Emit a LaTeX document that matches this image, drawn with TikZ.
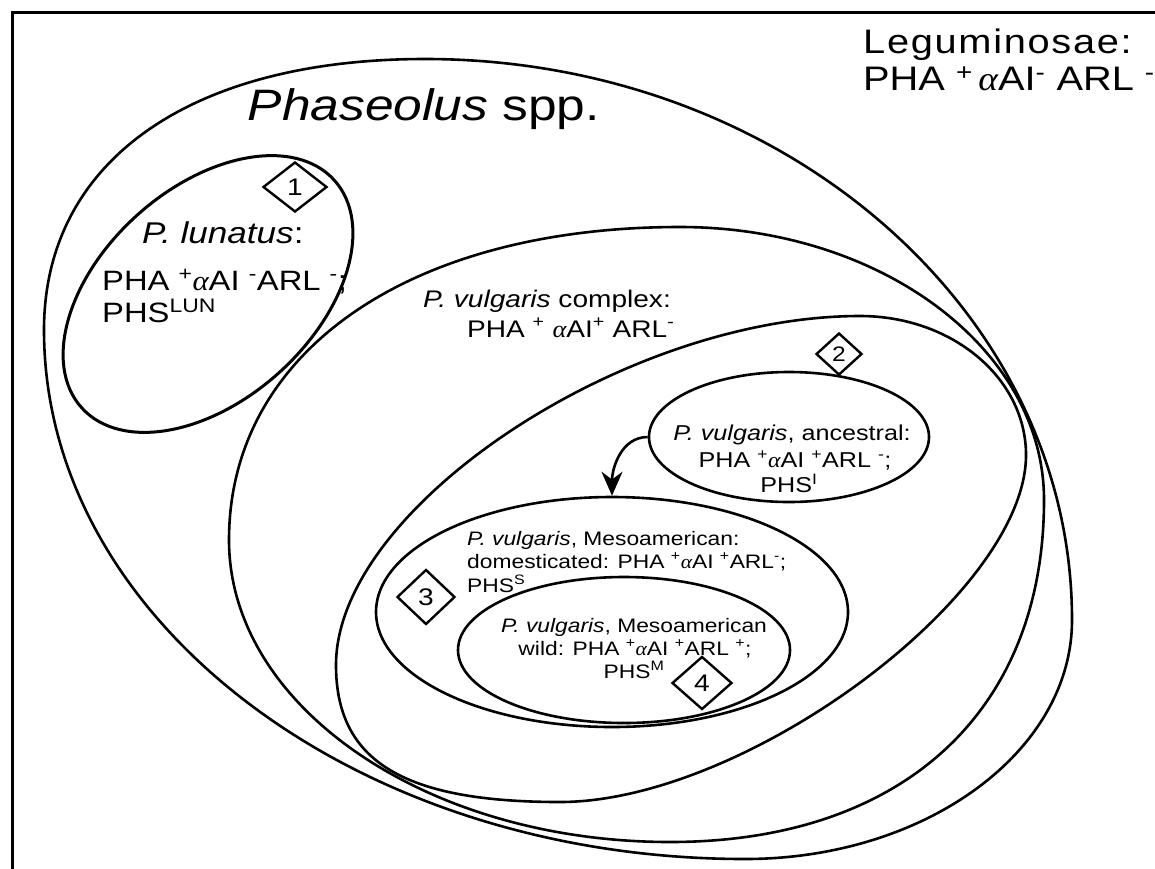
\documentclass[tikz,border=0pt]{standalone}
\usepackage{fontspec}
\setmainfont{Liberation Sans}[FakeStretch=1.17]
\newfontfamily\alfont{Liberation Serif}[FakeStretch=1.1]
\usetikzlibrary{shapes.geometric,arrows.meta}
\newcommand{\al}{{\alfont\itshape α}}
\newcommand{\up}[1]{\textsuperscript{#1}}
\newcommand{\fs}[1]{\fontsize{#1}{#1}\selectfont}
\begin{document}
\begin{tikzpicture}[x=1pt,y=-1pt,
  curve/.style={line width=2.6pt, line join=round},
  oval/.style={draw, ellipse, line width=2.6pt, inner sep=0pt},
  badge/.style={draw, diamond, line width=2.4pt, inner sep=0pt, font=\fs{24}},
  lbl/.style={inner sep=0pt, anchor=base west},
  lblc/.style={inner sep=0pt, anchor=base},
  ]
\useasboundingbox (0,0) rectangle (1155,868);
\clip (0,0) rectangle (1155,868);
\draw[line width=3pt] (12,12) rectangle (1200,920);

% Phaseolus spp.
\draw[curve] (425,59) .. controls (782,59) and (1072,310) .. (1072,620)
  .. controls (1072,752) and (925,859) .. (745,859)
  .. controls (358,859) and (44,622) .. (44,330)
  .. controls (44,162) and (189,59) .. cycle;
% P. vulgaris complex
\draw[curve] (680,227) .. controls (881,227) and (1044,349) .. (1044,500)
  .. controls (1044,712) and (902,842) .. (670,842)
  .. controls (427,842) and (229,707) .. (229,540)
  .. controls (229,352) and (409,227) .. cycle;
% group 2
\draw[curve] (860,316) .. controls (952,316) and (1026,378) .. (1026,455)
  .. controls (1026,594) and (746,802) .. (560,802)
  .. controls (403,802) and (336,761) .. (336,665)
  .. controls (336,508) and (624,316) .. cycle;

\node[oval, line width=3pt, minimum width=340pt, minimum height=212pt, rotate=42] (G) at (208,294) {};
\node[oval, minimum width=280pt, minimum height=130pt] (D) at (789,437) {};
\node[oval, minimum width=472pt, minimum height=230pt] (E) at (612,612) {};
\node[oval, minimum width=332pt, minimum height=146pt] (F) at (624,650) {};

\node[badge, minimum width=64pt, minimum height=50pt] (n1) at (295,187) {1};
\node[badge, minimum width=46pt, minimum height=42pt, font=\fs{21}] (n2) at (839,354) {2};
\node[badge, minimum width=58pt, minimum height=55pt] (n3) at (426,597) {3};
\node[badge, minimum width=60pt, minimum height=53pt] (n4) at (702,683) {4};

\draw[line width=2.6pt, -{Stealth[length=24pt,width=21pt]}] (D.west) to[out=180,in=90] (E.north);

\node[lbl, font=\fs{34}] (leg1) at (863,53) {\addfontfeature{LetterSpace=5}Leguminosae:};
\node[lbl, font=\fs{34}] (leg2) at (863,90) {PHA \up{+}\,\al AI\up{-} ARL \up{-}};

\node[inner sep=0pt, anchor=base east, font=\fs{44}] (ph) at (600,120) {\textit{Phaseolus} spp.};

\node[lbl, font=\fs{30}] (lun1) at (142,243) {\textit{P. lunatus}:};
\node[lbl, font=\fs{28}] (lun2) at (102,290) {PHA \up{+}\al AI \up{-}ARL \up{-};};
\node[lbl, font=\fs{28}] (lun3) at (102,322) {PHS\up{LUN}};

\node[lbl, font=\fs{24}] (cx1) at (423,307) {\textit{P. vulgaris} complex:};
\node[lbl, font=\fs{24}] (cx2) at (467,337) {PHA \up{+} \al AI\up{+} ARL\up{-}};

\node[lblc, font=\fs{21.5}] (an1) at (792,440) {\textit{P. vulgaris}, ancestral:};
\node[lblc, font=\fs{21.5}] (an2) at (795,467) {PHA \up{+}\al AI \up{+}ARL \up{-};};
\node[lblc, font=\fs{21.5}] (an3) at (789,492) {PHS\up{I}};

\node[lbl, font=\fs{19.5}] (do1) at (467,545) {\textit{P. vulgaris}, Mesoamerican:};
\node[lbl, font=\fs{19.5}] (do2) at (467,568) {domesticated: PHA \up{+}\al AI \up{+}ARL\up{-};};
\node[lbl, font=\fs{19.5}] (do3) at (467,592) {PHS\up{S}};

\node[lblc, font=\fs{19.5}] (wi1) at (634,632) {\textit{P. vulgaris}, Mesoamerican};
\node[lblc, font=\fs{19.5}] (wi2) at (635,655) {wild: PHA \up{+}\al AI \up{+}ARL \up{+};};
\node[lblc, font=\fs{19.5}] (wi3) at (634,678) {PHS\up{M}};
\end{tikzpicture}
\end{document}
